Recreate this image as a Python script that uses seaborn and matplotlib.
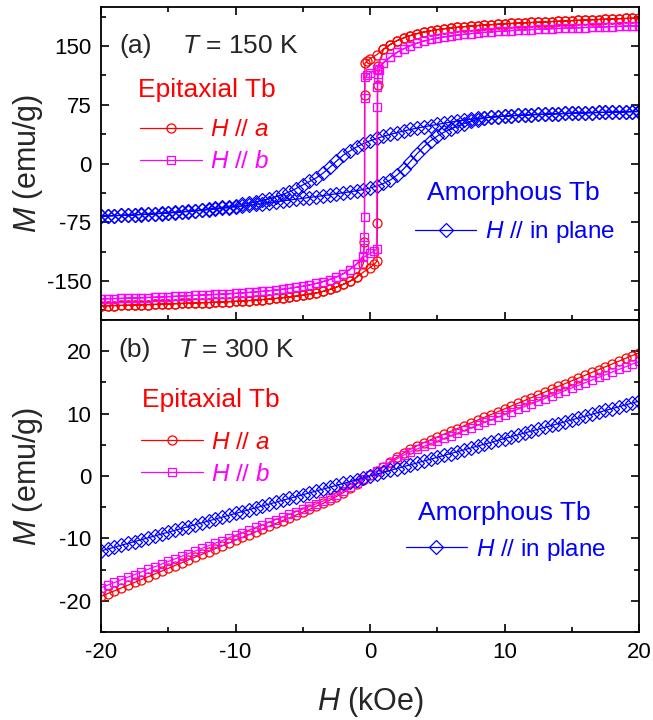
import matplotlib
matplotlib.use("Agg")
import matplotlib.pyplot as plt
import pandas as pd
import seaborn as sns
from matplotlib.ticker import MultipleLocator

sns.set_style("ticks")
plt.rcParams['font.family'] = ['Liberation Sans', 'DejaVu Sans']
plt.rcParams['mathtext.fontset'] = 'custom'
plt.rcParams['mathtext.rm'] = 'Liberation Sans'
plt.rcParams['mathtext.it'] = 'Liberation Sans:italic'
plt.rcParams['mathtext.bf'] = 'Liberation Sans:bold'
plt.rcParams['axes.unicode_minus'] = False

# ---------------- data ----------------
# field grid (kOe)
H_neg = [-20.0, -19.5, -19.0, -18.5, -18.0, -17.5, -17.0, -16.5, -16.0, -15.5,
         -15.0, -14.5, -14.0, -13.5, -13.0, -12.5, -12.0, -11.5, -11.0, -10.5,
         -10.0, -9.5, -9.0, -8.5, -8.0, -7.5, -7.0, -6.5, -6.0, -5.5,
         -5.0, -4.5, -4.0, -3.5, -3.0, -2.5, -2.0, -1.5, -1.0]
H_pos = [1.0, 1.5, 2.0, 2.5, 3.0, 3.5, 4.0, 4.5, 5.0, 5.5,
         6.0, 6.5, 7.0, 7.5, 8.0, 8.5, 9.0, 9.5, 10.0, 10.5,
         11.0, 11.5, 12.0, 12.5, 13.0, 13.5, 14.0, 14.5, 15.0, 15.5,
         16.0, 16.5, 17.0, 17.5, 18.0, 18.5, 19.0, 19.5, 20.0]
H_full = [-20.0, -19.5, -19.0, -18.5, -18.0, -17.5, -17.0, -16.5, -16.0, -15.5,
          -15.0, -14.5, -14.0, -13.5, -13.0, -12.5, -12.0, -11.5, -11.0, -10.5,
          -10.0, -9.5, -9.0, -8.5, -8.0, -7.5, -7.0, -6.5, -6.0, -5.5,
          -5.0, -4.5, -4.0, -3.5, -3.0, -2.5, -2.0, -1.5, -1.0, -0.5,
          0.0, 0.5, 1.0, 1.5, 2.0, 2.5, 3.0, 3.5, 4.0, 4.5,
          5.0, 5.5, 6.0, 6.5, 7.0, 7.5, 8.0, 8.5, 9.0, 9.5,
          10.0, 10.5, 11.0, 11.5, 12.0, 12.5, 13.0, 13.5, 14.0, 14.5,
          15.0, 15.5, 16.0, 16.5, 17.0, 17.5, 18.0, 18.5, 19.0, 19.5,
          20.0]

# (a) T = 150 K, epitaxial Tb, H // a (red)
red_neg = [-182.0, -181.8, -181.6, -181.4, -181.2, -181.0, -180.7, -180.4, -180.1, -179.8,
           -179.5, -179.2, -178.9, -178.6, -178.3, -178.0, -177.7, -177.3, -177.0, -176.6,
           -176.2, -175.7, -175.2, -174.6, -174.0, -173.3, -172.5, -171.6, -170.6, -169.5,
           -168.3, -167.0, -165.5, -163.5, -161.0, -158.0, -154.5, -150.5, -145.5]
red_pos = [146.0, 152.0, 157.0, 160.5, 163.5, 166.0, 168.0, 169.6, 171.0, 172.2,
           173.2, 174.1, 174.9, 175.6, 176.3, 176.9, 177.5, 178.0, 178.5, 179.0,
           179.4, 179.8, 180.2, 180.6, 181.0, 181.4, 181.8, 182.2, 182.6, 183.0,
           183.4, 183.7, 184.0, 184.4, 184.7, 185.0, 185.4, 185.7, 186.0]
red_dn_mid_H = [0.5, 0.0, -0.2, -0.38, -0.4, -0.42, -0.5]
red_dn_mid_M = [139.0, 134.0, 131.0, 128.0, 88.0, -100.0, -128.0]
red_up_mid_H = [-0.5, 0.0, 0.3, 0.52, 0.55, 0.57, 0.6]
red_up_mid_M = [-139.0, -133.0, -129.0, -125.0, -76.0, 100.0, 124.0]

# (a) epitaxial Tb, H // b (magenta)
mag_neg = [-173.0, -172.8, -172.6, -172.4, -172.2, -171.9, -171.6, -171.3, -171.0, -170.6,
           -170.2, -169.8, -169.4, -169.0, -168.6, -168.2, -167.8, -167.4, -167.0, -166.5,
           -166.0, -165.4, -164.8, -164.1, -163.4, -162.6, -161.7, -160.7, -159.6, -158.3,
           -156.9, -155.2, -153.3, -151.0, -148.3, -145.0, -141.0, -135.5, -128.5]
mag_pos = [129.0, 136.0, 142.0, 146.5, 150.5, 153.8, 156.5, 158.5, 160.3, 161.8,
           163.0, 164.1, 165.1, 166.0, 166.8, 167.5, 168.2, 168.8, 169.4, 169.9,
           170.4, 170.8, 171.2, 171.6, 172.0, 172.3, 172.6, 172.9, 173.2, 173.5,
           173.8, 174.1, 174.4, 174.7, 175.0, 175.3, 175.6, 175.8, 176.0]
mag_dn_mid_H = [0.5, 0.0, -0.2, -0.36, -0.38, -0.4, -0.42, -0.44, -0.5]
mag_dn_mid_M = [121.0, 116.0, 113.0, 110.0, 84.0, -68.0, -94.0, -108.0, -118.0]
mag_up_mid_H = [-0.5, 0.0, 0.3, 0.5, 0.53, 0.55, 0.57, 0.6, 0.7]
mag_up_mid_M = [-120.0, -115.0, -112.0, -109.0, 72.0, 98.0, 109.0, 114.0, 120.0]

# (a) amorphous Tb, H // in plane (blue), values on H_full
blue_dn = [-67.0, -66.8, -66.5, -66.2, -65.9, -65.5, -65.1, -64.6, -64.1, -63.5,
           -62.9, -62.3, -61.6, -60.9, -60.1, -59.2, -58.3, -57.3, -56.2, -55.0,
           -53.7, -52.3, -50.8, -49.1, -47.2, -45.0, -42.5, -39.6, -36.3, -32.0,
           -27.5, -23.0, -18.5, -12.5, -5.0, 3.0, 10.5, 16.0, 21.0, 25.5,
           29.0, 32.0, 34.8, 37.2, 39.5, 41.5, 43.5, 45.2, 46.9, 48.5,
           50.0, 51.5, 53.0, 54.4, 55.5, 56.6, 57.6, 58.6, 59.4, 60.0,
           60.6, 61.1, 61.6, 62.0, 62.4, 62.8, 63.1, 63.4, 63.7, 64.0,
           64.3, 64.6, 64.9, 65.1, 65.3, 65.5, 65.7, 65.9, 66.1, 66.3,
           66.5]
blue_up = [-67.2, -67.0, -66.7, -66.4, -66.1, -65.7, -65.3, -64.9, -64.4, -63.9,
           -63.3, -62.7, -62.1, -61.4, -60.7, -59.9, -59.1, -58.3, -57.4, -56.5,
           -55.5, -54.5, -53.4, -52.3, -51.2, -50.1, -49.0, -47.9, -46.8, -45.7,
           -44.6, -43.5, -42.3, -41.1, -39.9, -38.7, -37.5, -36.2, -34.9, -33.3,
           -31.3, -28.8, -25.5, -21.2, -15.0, -7.0, 2.5, 12.5, 21.5, 29.0,
           35.0, 40.0, 44.0, 47.8, 51.0, 53.8, 56.2, 58.0, 59.2, 59.9,
           60.5, 61.0, 61.5, 61.9, 62.3, 62.7, 63.0, 63.3, 63.6, 63.9,
           64.2, 64.5, 64.8, 65.0, 65.2, 65.4, 65.6, 65.8, 66.0, 66.2,
           66.4]

# (b) T = 300 K, values on H_full
red_b = [-19.30, -18.85, -18.40, -17.95, -17.50, -17.05, -16.60, -16.15, -15.70, -15.25,
         -14.80, -14.35, -13.90, -13.45, -13.00, -12.55, -12.10, -11.65, -11.20, -10.75,
         -10.30, -9.85, -9.40, -8.95, -8.50, -8.05, -7.60, -7.15, -6.70, -6.25,
         -5.80, -5.35, -4.85, -4.40, -3.90, -3.30, -2.70, -2.00, -1.30, -0.60,
         0.10, 0.80, 1.50, 2.30, 3.00, 3.70, 4.30, 4.85, 5.35, 5.80,
         6.25, 6.70, 7.15, 7.60, 8.05, 8.50, 8.95, 9.40, 9.85, 10.30,
         10.75, 11.20, 11.65, 12.10, 12.55, 13.00, 13.45, 13.90, 14.35, 14.80,
         15.25, 15.70, 16.15, 16.60, 17.05, 17.50, 17.95, 18.40, 18.85, 19.30,
         19.75]
mag_b = [-17.90, -17.48, -17.06, -16.64, -16.22, -15.80, -15.38, -14.96, -14.54, -14.12,
         -13.70, -13.28, -12.86, -12.44, -12.02, -11.60, -11.18, -10.76, -10.34, -9.92,
         -9.50, -9.08, -8.66, -8.24, -7.82, -7.40, -6.98, -6.56, -6.14, -5.72,
         -5.30, -4.88, -4.46, -4.04, -3.60, -3.05, -2.45, -1.80, -1.15, -0.50,
         0.10, 0.75, 1.40, 2.10, 2.75, 3.35, 3.90, 4.33, 4.75, 5.18,
         5.60, 6.03, 6.45, 6.88, 7.30, 7.73, 8.15, 8.58, 9.00, 9.43,
         9.85, 10.28, 10.70, 11.13, 11.55, 11.98, 12.40, 12.83, 13.25, 13.68,
         14.10, 14.53, 14.95, 15.38, 15.80, 16.23, 16.65, 17.08, 17.50, 17.93,
         18.35]
blue_b = [-12.0, -11.7, -11.4, -11.1, -10.8, -10.5, -10.2, -9.9, -9.6, -9.3,
          -9.0, -8.7, -8.4, -8.1, -7.8, -7.5, -7.2, -6.9, -6.6, -6.3,
          -6.0, -5.7, -5.4, -5.1, -4.8, -4.5, -4.2, -3.9, -3.6, -3.3,
          -3.0, -2.7, -2.4, -2.1, -1.8, -1.5, -1.2, -0.9, -0.6, -0.3,
          0.0, 0.3, 0.6, 0.9, 1.2, 1.5, 1.8, 2.1, 2.4, 2.7,
          3.0, 3.3, 3.6, 3.9, 4.2, 4.5, 4.8, 5.1, 5.4, 5.7,
          6.0, 6.3, 6.6, 6.9, 7.2, 7.5, 7.8, 8.1, 8.4, 8.7,
          9.0, 9.3, 9.6, 9.9, 10.2, 10.5, 10.8, 11.1, 11.4, 11.7,
          12.0]

RED, MAG, BLUE = '#FF0000', '#FF00FF', '#0000FF'
LBL_A = r'$H$ $\mathit{//}$ $a$'
LBL_B = r'$H$ $\mathit{//}$ $b$'
LBL_P = r'$H$ $\mathit{//}$ in plane'


def loop_path(neg, pos, dn_H, dn_M, up_H, up_M):
    """sweep +20 -> -20 then -20 -> +20 using the read values"""
    H = H_pos[::-1] + dn_H + H_neg[::-1] + H_neg + up_H + H_pos
    M = pos[::-1] + dn_M + neg[::-1] + neg + up_M + pos
    return H, M


def draw(ax, H, M, color, marker, ms):
    df = pd.DataFrame({'H': H, 'M': M})
    sns.lineplot(data=df, x='H', y='M', sort=False, estimator=None, ax=ax,
                 color=color, marker=marker, markersize=ms,
                 markerfacecolor='none', markeredgecolor=color,
                 markeredgewidth=0.9, linewidth=0.9, legend=False)
    return ax.lines[-1]


fig = plt.figure(figsize=(6.53, 7.2), dpi=100)
ax1 = fig.add_axes([101/653, 1-320/720, 538/653, 313/720])
ax2 = fig.add_axes([101/653, 1-632/720, 538/653, 312/720], sharex=ax1)

# ---- panel (a)
Hb = H_full[::-1] + H_full
Mb = blue_dn[::-1] + blue_up
lp = draw(ax1, Hb, Mb, BLUE, 'D', 7)
Ha, Ma = loop_path(red_neg, red_pos, red_dn_mid_H, red_dn_mid_M, red_up_mid_H, red_up_mid_M)
la = draw(ax1, Ha, Ma, RED, 'o', 6.5)
Hm, Mm = loop_path(mag_neg, mag_pos, mag_dn_mid_H, mag_dn_mid_M, mag_up_mid_H, mag_up_mid_M)
lb = draw(ax1, Hm, Mm, MAG, 's', 6.2)

# ---- panel (b)
la2 = draw(ax2, H_full, red_b, RED, 'o', 6.5)
lb2 = draw(ax2, H_full, mag_b, MAG, 's', 6.2)
lp2 = draw(ax2, H_full, blue_b, BLUE, 'D', 7)

ax1.set_xlim(-20, 20)
ax1.set_ylim(-200, 200)
ax2.set_ylim(-25, 25)
ax1.yaxis.set_major_locator(MultipleLocator(75))
ax1.yaxis.set_minor_locator(MultipleLocator(37.5))
ax2.yaxis.set_major_locator(MultipleLocator(10))
ax2.yaxis.set_minor_locator(MultipleLocator(5))
ax2.xaxis.set_major_locator(MultipleLocator(10))
ax2.xaxis.set_minor_locator(MultipleLocator(5))

for ax in (ax1, ax2):
    ax.tick_params(which='both', direction='in', right=True, width=1.2,
                   labelsize=16, pad=7, color='black', labelcolor='black')
    ax.tick_params(which='major', length=6)
    ax.tick_params(which='minor', length=3.5)
    for s in ax.spines.values():
        s.set_linewidth(1.3)
        s.set_color('black')
    ax.set_ylabel(r'$M$ (emu/g)', fontsize=22, labelpad=4)
    ax.yaxis.set_label_coords(-0.105, 0.5)
ax1.tick_params(which='both', top=True, bottom=True, labelbottom=False)
ax2.tick_params(which='both', top=False, bottom=True)
ax1.set_xlabel('')
ax2.set_xlabel(r'$H$ (kOe)', fontsize=22)
ax2.xaxis.set_label_coords(0.5, -0.17)

TXT = 19


def annotate(ax, tag, temp, ep_y, leg_ep, am_xy, leg_am):
    ax.text(tag[0], tag[1], tag[2], transform=ax.transAxes, fontsize=TXT,
            va='center', ha='left')
    ax.text(temp[0], temp[1], temp[2], transform=ax.transAxes, fontsize=TXT,
            va='center', ha='left')
    ax.text(ep_y[0], ep_y[1], 'Epitaxial Tb', transform=ax.transAxes,
            fontsize=TXT, color=RED, va='center', ha='left')
    ax.text(am_xy[0], am_xy[1], 'Amorphous Tb', transform=ax.transAxes,
            fontsize=TXT, color=BLUE, va='center', ha='center')
    l1 = ax.legend(handles=leg_ep[2], labels=[LBL_A, LBL_B], loc='center left',
                   bbox_to_anchor=(leg_ep[0], leg_ep[1]), frameon=False,
                   fontsize=17.5, handlelength=2.55, handletextpad=0.35,
                   labelspacing=0.42, borderpad=0, borderaxespad=0,
                   labelcolor='linecolor', numpoints=1)
    ax.add_artist(l1)
    ax.legend(handles=leg_am[2], labels=[LBL_P], loc='center left',
              bbox_to_anchor=(leg_am[0], leg_am[1]), frameon=False,
              fontsize=17.5, handlelength=2.5, handletextpad=0.38,
              borderpad=0, borderaxespad=0, labelcolor='linecolor',
              numpoints=1)


annotate(ax1, (0.035, 0.875, '(a)'), (0.15, 0.875, r'$T$ = 150 K'),
         (0.069, 0.735), (0.0725, 0.555, [la, lb]), (0.766, 0.406),
         (0.584, 0.281, [lp]))
annotate(ax2, (0.032, 0.904, '(b)'), (0.144, 0.904, r'$T$ = 300 K'),
         (0.0757, 0.744), (0.0738, 0.555, [la2, lb2]), (0.749, 0.380),
         (0.567, 0.263, [lp2]))

fig.savefig('out.png', dpi=100)
